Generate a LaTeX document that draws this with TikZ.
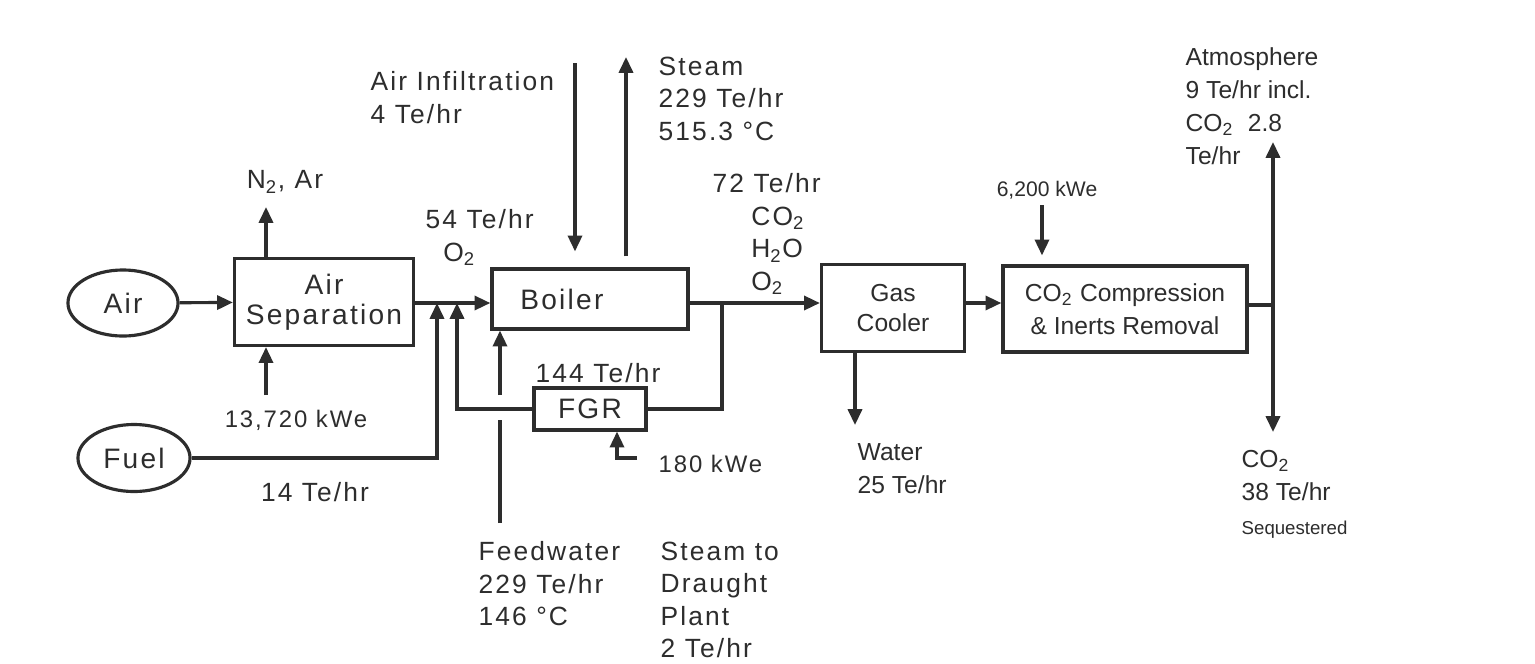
\documentclass[tikz,border=0pt]{standalone}
\usepackage{fontspec}
\setmainfont{Liberation Sans}[LetterSpace=8]
\newfontfamily\plainsf{Liberation Sans}
\usetikzlibrary{arrows.meta, positioning, calc, shapes.geometric}
\definecolor{Ink}{RGB}{45,45,45}

\begin{document}
\begin{tikzpicture}[
    x=0.01cm, y=-0.01cm,
    every node/.style={text=Ink},
    unit/.style={
      draw=Ink,
      line width=0.9pt,
      inner sep=0,
      align=center,
      font=\fontsize{8}{8.6}\selectfont
    },
    stream/.style={draw=Ink, ellipse, line width=0.9pt, inner sep=0, font=\fontsize{8}{9}\selectfont},
    lbl/.style={inner sep=0, align=left, font=\fontsize{7.5}{9.25}\selectfont},
    kwe/.style={inner sep=0, font=\fontsize{6.8}{8}\selectfont},
    narrow/.style={inner sep=0, align=left, font=\plainsf\fontsize{7}{9.4}\selectfont},
    pipe/.style={draw=Ink, line width=0.9pt},
    flow/.style={pipe, -{Triangle[length=4.5pt, width=4pt]}}
  ]
  \fill[white] (0,0) rectangle (1535,663);
  \useasboundingbox (0,0) rectangle (1535,663);

  % units
  \node[stream, minimum width=1.1cm, minimum height=0.66cm] (air) at (123,303) {Air};
  \node[stream, minimum width=1.12cm, minimum height=0.67cm] (fuel) at (134,458) {Fuel};
  \node[unit, minimum width=1.79cm, minimum height=0.87cm] (asu) at (324,302) {Air\\Separation};
  \node[unit, minimum width=1.96cm, minimum height=0.6cm] (boiler) at (590,299) {Boiler\hspace*{16pt}};
  \node[unit, minimum width=1.12cm, minimum height=0.42cm] (fgr) at (590,409) {FGR};
  \node[unit, font=\plainsf\fontsize{7}{8.6}\selectfont, minimum width=1.43cm, minimum height=0.87cm] (cooler) at (893,308) {Gas\\Cooler};
  \node[unit, font=\plainsf\fontsize{7}{9.4}\selectfont, minimum width=2.44cm, minimum height=0.86cm] (comp) at (1125,309) {CO\textsubscript{2} Compression\\\& Inerts Removal};

  % stream ends and junctions
  \coordinate (n2) at (266,207);
  \coordinate (pasu) at (266,395);
  \coordinate (jfuel) at (437,303);
  \coordinate (jfgr) at (457,303);
  \coordinate (jout) at (722,303);
  \coordinate (infil) at (575,63);
  \coordinate (steam) at (626,57);
  \coordinate (fw) at (500,523);
  \coordinate (pfgr) at (637,458);
  \coordinate (water) at (855,425);
  \coordinate (pcomp) at (1042,205);
  \coordinate (jco2) at (1273,305);
  \coordinate (atm) at (1273,142);
  \coordinate (seq) at (1273,432);

  % connectors
  \draw[flow] (air) -- (asu);
  \draw[flow] (asu.north -| n2) -- (n2);
  \draw[flow] (pasu) -- (asu.south -| pasu);
  \draw[flow] (asu.east |- jfuel) -- (boiler.west |- jfuel);
  \draw[flow] (fuel.east) -| (jfuel);
  \draw[flow] (fgr.west) -| (jfgr);
  \draw[flow] (boiler.east |- jout) -- (cooler.west |- jout);
  \draw[pipe] (jout) |- (fgr.east);
  \draw[pipe] (fw) -- (fw |- 0,420);
  \draw[flow] (fw |- 0,395) -- (boiler.south -| fw);
  \draw[flow] (pfgr) -| ($(fgr.south)+(27,0)$);
  \draw[flow] (infil) -- ($(boiler.north -| infil)+(0,-16)$);
  \draw[flow] ($(boiler.north -| steam)+(0,-11)$) -- (steam);
  \draw[flow] (cooler.south -| water) -- (water);
  \draw[flow] (cooler.east |- jout) -- (comp.west |- jout);
  \draw[flow] (pcomp) -- ($(comp.north -| pcomp)+(0,-9)$);
  \draw[pipe] (comp.east |- jco2) -- (jco2);
  \draw[flow] (jco2) -- (atm);
  \draw[flow] (jco2) -- (seq);

  % labels
  \node[lbl, anchor=north west] (infillbl) at (370,71) {Air Infiltration\\4 Te/hr};
  \node[lbl] (n2lbl) at (285,182) {N\textsubscript{2}, Ar};
  \node[lbl, anchor=north west] (o2lbl) at (425,209) {54 Te/hr\\\hspace*{5pt}O\textsubscript{2}};
  \node[lbl, anchor=north west] (steamlbl) at (658,56) {Steam\\229 Te/hr\\515.3 °C};
  \node[lbl, anchor=north west] (fluelbl) at (712,173) {72 Te/hr\\\hspace*{11pt}CO\textsubscript{2}\\\hspace*{11pt}H\textsubscript{2}O\\\hspace*{11pt}O\textsubscript{2}};
  \node[lbl, anchor=west] (fgrlbl) at (535,373) {144 Te/hr};
  \node[kwe, anchor=west] (pfgrlbl) at (658,464) {180 kWe};
  \node[kwe] (pasulbl) at (296,420) {13,720 kWe};
  \node[lbl] (fuellbl) at (315,492) {14 Te/hr};
  \node[lbl, anchor=north west] (fwlbl) at (478,541) {Feedwater\\229 Te/hr\\146 °C};
  \node[lbl, anchor=north west] (draughtlbl) at (660,541) {Steam to\\Draught\\Plant\\2 Te/hr};
  \node[narrow, anchor=north west] (waterlbl) at (857,443) {Water\\25 Te/hr};
  \node[narrow, font=\plainsf\fontsize{6}{7}\selectfont] (pcomplbl) at (1047,190) {6,200 kWe};
  \node[narrow, anchor=north west] (atmlbl) at (1185,47) {Atmosphere\\9 Te/hr incl.\\CO\textsubscript{2}\ \ 2.8\\Te/hr};
  \node[narrow, anchor=north west] (seqlbl) at (1241,450) {CO\textsubscript{2}\\38 Te/hr\\{\fontsize{5.3}{6}\selectfont Sequestered}};
\end{tikzpicture}
\end{document}
